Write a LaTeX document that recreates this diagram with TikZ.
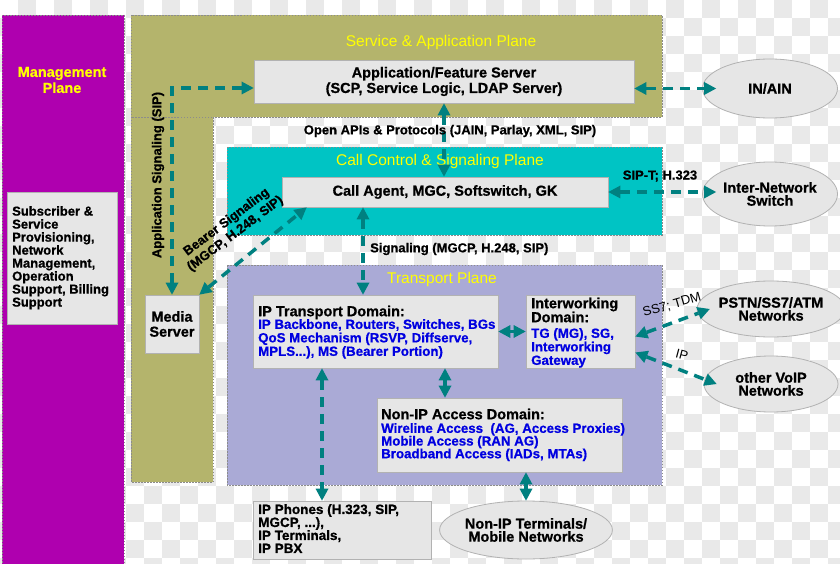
\documentclass[tikz,border=0pt]{standalone}
\usepackage{fontspec}
\setmainfont{Liberation Sans}[BoldFeatures={FakeBold=0.8}]
\usetikzlibrary{arrows.meta,shapes.geometric}
\definecolor{mag}{HTML}{AF00AF}
\definecolor{olivec}{HTML}{B4B46C}
\definecolor{cyanc}{HTML}{00C4C4}
\definecolor{lav}{HTML}{AAAAD6}
\definecolor{boxg}{HTML}{E6E6E6}
\definecolor{tealc}{HTML}{008080}
\definecolor{bluet}{HTML}{0000E0}
\definecolor{yel}{HTML}{FFFF00}
\definecolor{chk}{HTML}{E9E9E9}
\newcommand\fsb{\fontsize{13}{13.4}\selectfont\bfseries}
\newcommand\fbig{\fontsize{14.5}{14}\selectfont\bfseries}
\newcommand\fblue{\fontsize{13.3}{13.5}\selectfont\bfseries\color{bluet}}
\begin{document}
\begin{tikzpicture}[x=1pt,y=-1pt,
  plane/.style={draw=black!45, dash pattern=on 1.5pt off 1.5pt, line width=0.6pt},
  gbox/.style={rectangle, draw=black!30, fill=boxg, line width=0.8pt, inner sep=0pt, align=center, font=\fbig},
  ell/.style={ellipse, draw=black!30, fill=boxg, line width=0.8pt, inner sep=0pt, align=center, font=\fbig},
  txt/.style={inner sep=0pt, align=left, font=\fsb, anchor=north west},
  lbl/.style={inner sep=0pt, align=center, font=\fsb},
  ptitle/.style={inner sep=0pt, text=yel, font=\fontsize{15.5}{16}\selectfont},
  conn/.style={draw=tealc, line width=3.5pt, dash pattern=on 10pt off 7pt,
    {Triangle[length=12pt,width=13pt,line width=0pt]}-{Triangle[length=12pt,width=13pt,line width=0pt]}},
]
\useasboundingbox (0,0) rectangle (840,564);
% background checkerboard
\fill[white] (0,0) rectangle (840,564);
\foreach \i in {0,2,...,46}{\foreach \j in {0,2,...,30}{
  \fill[chk] (\i*18+18,\j*18) rectangle ++(18,18);
  \fill[chk] (\i*18,\j*18+18) rectangle ++(18,18);}}
% planes
\path[plane, fill=mag] (2,15) rectangle (124,570);
\path[plane, fill=olivec] (131,15) rectangle (662,117);
\path[plane, fill=olivec] (131,117) rectangle (213,482);
\path[plane, fill=cyanc] (227,147) rectangle (662,235);
\path[plane, fill=lav] (227,265) rectangle (662,485);
% plane titles
\node[ptitle, font=\fontsize{14.5}{16}\selectfont\bfseries, align=center] (mgt) at (62,80) {Management\\Plane};
\node[ptitle] (sat) at (441,42) {Service \& Application Plane};
\node[ptitle] (cct) at (440,161) {Call Control \& Signaling Plane};
\node[ptitle] (tpt) at (442,279) {Transport Plane};
% boxes
\node[gbox, minimum width=110pt, minimum height=132pt] (mbox) at (62,258) {};
\node[txt, font=\fontsize{13}{13}\selectfont\bfseries] (mtext) at (12,206) {Subscriber \&\\Service\\Provisioning,\\Network\\Management,\\Operation\\Support, Billing\\Support};
\node[gbox, minimum width=380pt, minimum height=43pt, font=\fontsize{14.5}{15.5}\selectfont\bfseries] (app) at (444,81.5) {Application/Feature Server\\(SCP, Service Logic, LDAP Server)};
\node[gbox, minimum width=326pt, minimum height=30pt] (ca) at (445,192) {Call Agent, MGC, Softswitch, GK};
\node[gbox, minimum width=54pt, minimum height=58pt, font=\fontsize{14.5}{15}\selectfont\bfseries] (media) at (172,324) {Media\\Server};
\node[gbox, minimum width=245pt, minimum height=73pt] (ipt) at (375.5,331.5) {};
\node[txt, font=\fbig] (iptt) at (258,305.5) {IP Transport Domain:};
\node[txt, font=\fblue] (iptb) at (258,319) {IP Backbone, Routers, Switches, BGs\\QoS Mechanism (RSVP, Diffserve,\\MPLS...), MS (Bearer Portion)};
\node[gbox, minimum width=109pt, minimum height=73pt] (iw) at (580.5,331.5) {};
\node[txt, font=\fbig] (iwt) at (531,297.5) {Interworking\\Domain:};
\node[txt, font=\fblue] (iwb) at (531,328) {TG (MG), SG,\\Interworking\\Gateway};
\node[gbox, minimum width=245pt, minimum height=74pt] (nonip) at (499.5,435) {};
\node[txt, font=\fbig] (nonipt) at (381,408.5) {Non-IP Access Domain:};
\node[txt, font=\fontsize{13.3}{12.7}\selectfont\bfseries\color{bluet}] (nonipb) at (381,423) {Wireline Access~ (AG, Access Proxies)\\Mobile Access (RAN AG)\\Broadband Access (IADs, MTAs)};
\node[gbox, minimum width=178pt, minimum height=58pt] (phones) at (342,530) {};
\node[txt, font=\fontsize{13.5}{13}\selectfont\bfseries] (phonest) at (258,504) {IP Phones (H.323, SIP,\\MGCP, ...),\\IP Terminals,\\IP PBX};
% ellipses
\node[ell, minimum width=135pt, minimum height=59pt] (inain) at (770,88.5) {IN/AIN};
\node[ell, minimum width=135pt, minimum height=64pt, font=\fontsize{14.5}{13}\selectfont\bfseries] (ins) at (770,194) {Inter-Network\\Switch};
\node[ell, minimum width=134pt, minimum height=56pt, font=\fontsize{14.5}{13}\selectfont\bfseries] (pstn) at (771,309) {PSTN/SS7/ATM\\Networks};
\node[ell, minimum width=134pt, minimum height=56pt, font=\fontsize{14.5}{13}\selectfont\bfseries] (voip) at (771,384) {other VoIP\\Networks};
\node[ell, minimum width=164pt, minimum height=58pt, font=\fontsize{14.5}{13}\selectfont\bfseries] (nit) at (526,530) {Non-IP Terminals/\\Mobile Networks};
% connectors
\draw[conn] (media.north) |- ([yshift=-6.5pt]app.west);
\draw[conn] (app.east |- inain.center) -- ([xshift=14pt]inain.west);
\draw[conn] (app.south) -- (app.south |- ca.north);
\draw[conn] (ca.east) -- ([xshift=14pt]ins.west |- ca.east);
\draw[conn] ([xshift=-82pt]ca.south) -- ([xshift=-82pt]ca.south |- ipt.north);
\draw[conn] (media.north east) -- ([xshift=25pt]ca.south west);
\draw[conn] (ipt.east) -- (iw.west);
\draw[conn] ([xshift=69.5pt]ipt.south) -- ([xshift=69.5pt]ipt.south |- nonip.north);
\draw[conn] ([xshift=-53.5pt]ipt.south) -- ([xshift=-53.5pt]ipt.south |- phones.north);
\draw[conn] (nit.north |- nonip.south) -- (nit.north);
\draw[conn] ([yshift=-5pt]iw.east) -- ([xshift=13pt]pstn.west);
\draw[conn] ([yshift=-21pt]iw.east) -- ([xshift=13pt]voip.west);
% labels
\node[lbl] (oapi) at (450,131) {Open APIs \& Protocols (JAIN, Parlay, XML, SIP)};
\node[lbl, anchor=west] (sigl) at (370,249) {Signaling (MGCP, H.248, SIP)};
\node[lbl] (sipt) at (660,176) {SIP-T; H.323};
\node[lbl, font=\fontsize{13}{13}\selectfont, rotate=16] (ss7) at (672,305) {SS7; TDM};
\node[lbl, font=\fontsize{13}{13}\selectfont, rotate=-15] (ipl) at (682,355) {IP};
\node[lbl, rotate=37, font=\fontsize{13}{14.5}\selectfont\bfseries] (bear) at (231,228) {Bearer Signaling\\(MGCP, H.248, SIP)};
\node[lbl, rotate=90] (asig) at (158,175) {Application Signaling (SIP)};
\end{tikzpicture}
\end{document}
